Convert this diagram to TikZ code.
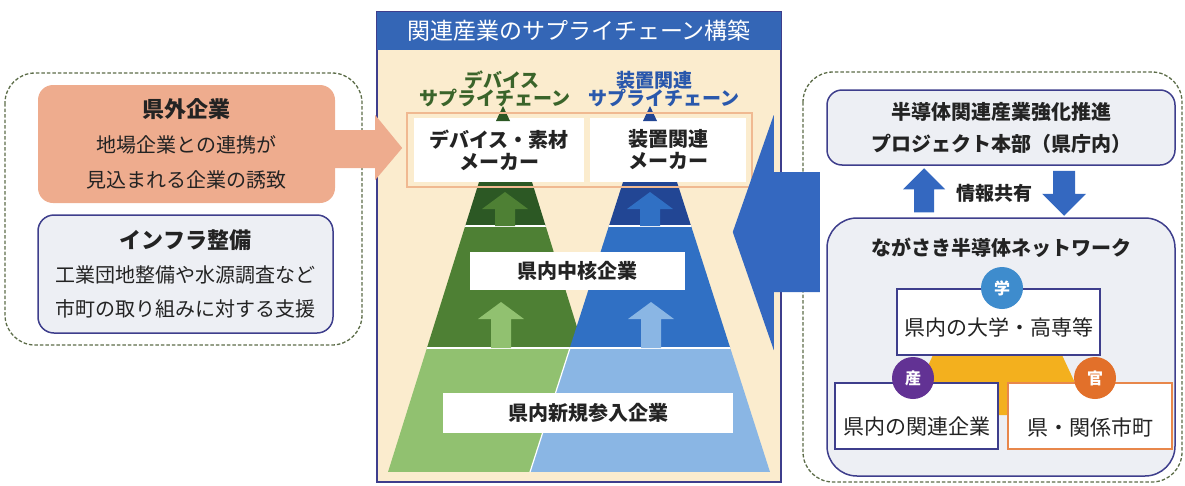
\documentclass[tikz,border=0pt]{standalone}
\usepackage{fontspec}
\setmainfont{Noto Sans CJK JP}
\usetikzlibrary{positioning}

\definecolor{salmon}{RGB}{238,172,142}
\definecolor{olivegray}{RGB}{92,108,72}
\definecolor{navyline}{RGB}{62,62,140}
\definecolor{boxgrey}{RGB}{237,239,244}
\definecolor{headblue}{RGB}{52,102,182}
\definecolor{cream}{RGB}{251,236,206}
\definecolor{makerline}{RGB}{240,185,145}
\definecolor{gdark}{RGB}{44,88,36}
\definecolor{gmid}{RGB}{78,128,52}
\definecolor{glight}{RGB}{145,193,112}
\definecolor{bdark}{RGB}{34,70,148}
\definecolor{bmid}{RGB}{48,112,196}
\definecolor{blight}{RGB}{138,182,228}
\definecolor{arrowblue}{RGB}{52,104,192}
\definecolor{labelgreen}{RGB}{58,100,42}
\definecolor{labelblue}{RGB}{42,88,172}
\definecolor{gakublue}{RGB}{62,140,205}
\definecolor{sanpurple}{RGB}{98,50,148}
\definecolor{kanorange}{RGB}{226,112,42}
\definecolor{kanline}{RGB}{232,135,75}
\definecolor{amber}{RGB}{243,176,30}
\definecolor{inktext}{RGB}{35,35,35}

\tikzset{
  dashframe/.style={draw=olivegray, dash pattern=on 3.5pt off 2pt, line width=1.3pt, rounded corners=30pt},
  greybox/.style={draw=navyline, fill=boxgrey, line width=1.5pt, text=inktext, align=center},
  whitebox/.style={fill=white, inner sep=0pt, text=inktext, align=center},
  txt/.style={font=\fontsize{21}{34}\selectfont, text=inktext, inner sep=0pt},
  boldtxt/.style={font=\fontsize{20}{24}\selectfont\bfseries, text=inktext, inner sep=0pt},
  chainlabel/.style={font=\fontsize{19}{20}\selectfont\bfseries, inner sep=0pt},
  badge/.style={circle, minimum size=42pt, inner sep=0pt, text=white, font=\fontsize{16}{18}\selectfont\bfseries},
}

\begin{document}
\begin{tikzpicture}[x=1pt, y=-1pt]
\useasboundingbox (0,0) rectangle (1185,485);

\draw[dashframe] (5,73) rectangle (362,345);
\node[fill=salmon, rounded corners=15pt, minimum width=297pt, minimum height=118pt, align=center, text=inktext,
  font=\fontsize{20}{35}\selectfont] (kengai) at (186.5,144)
  {{\fontsize{22}{35}\selectfont\bfseries 県外企業}\\地場企業との連携が\\見込まれる企業の誘致};
\node[greybox, rounded corners=16pt, minimum width=295pt, minimum height=118pt,
  font=\fontsize{20}{34}\selectfont] (infra) at (185.5,274)
  {{\fontsize{22}{34}\selectfont\bfseries インフラ整備}\\工業団地整備や水源調査など\\市町の取り組みに対する支援};

\node[draw=navyline, fill=cream, line width=1.5pt, minimum width=404pt, minimum height=470pt] (panel) at (579,247) {};
\node[fill=headblue, minimum width=404pt, minimum height=38pt, text=white,
  font=\fontsize{23}{26}\selectfont] (header) at (579,31) {関連産業のサプライチェーン構築};

\node[chainlabel, text=labelgreen] (devlabel) at (502,80) {デバイス};
\node[chainlabel, text=labelgreen] (devchain) at (495,98) {サプライチェーン};
\node[chainlabel, text=labelblue] (eqlabel) at (654,80) {装置関連};
\node[chainlabel, text=labelblue] (eqchain) at (664,98) {サプライチェーン};

\node[whitebox, minimum width=170pt, minimum height=64pt, font=\fontsize{20}{22}\selectfont\bfseries] (devmaker) at (499,150)
  {デバイス・素材\\メーカー};
\node[whitebox, minimum width=156pt, minimum height=64pt, font=\fontsize{20}{22}\selectfont\bfseries] (eqmaker) at (668,150)
  {装置関連\\メーカー};

\fill[gdark] (496,121) -- (503,106) -- (510,121) -- cycle;
\fill[bdark] (643,121) -- (650,106) -- (657,121) -- cycle;

\begin{scope}
  \clip (479,182) -- (532,182) -- (622,472) -- (388,472) -- cycle;
  \fill[gdark] (380,182) rectangle (640,226);
  \fill[gmid] (380,226) rectangle (640,348);
  \fill[glight] (380,348) rectangle (640,472);
  \draw[white, line width=2pt] (380,226) -- (640,226) (380,348) -- (640,348);
\end{scope}
\begin{scope}
  \clip (623,182) -- (677,182) -- (770,472) -- (530,472) -- cycle;
  \fill[bdark] (520,182) rectangle (780,226);
  \fill[bmid] (520,226) rectangle (780,348);
  \fill[blight] (520,348) rectangle (780,472);
  \draw[white, line width=2pt] (520,226) -- (780,226) (520,348) -- (780,348);
\end{scope}
\draw[white, line width=1.2pt] (570,348) -- (530,472);

\foreach \ax/\ay/\len/\ac in {505/192/34/gmid, 650/192/34/bmid, 501/302/46/glight, 651/302/46/blight}
  \fill[\ac] (\ax,\ay) -- ++(23,17) -- ++(-13,0) -- ++(0,\len-17) -- ++(-20,0) -- ++(0,17-\len) -- ++(-13,0) -- cycle;

\node[draw=makerline, line width=2.5pt, minimum width=345pt, minimum height=74pt] (makers) at (579.5,150) {};

\node[whitebox, minimum width=215pt, minimum height=38pt, font=\fontsize{20}{24}\selectfont\bfseries] (chukaku) at (577.5,271) {県内中核企業};
\node[whitebox, minimum width=290pt, minimum height=40pt, font=\fontsize{20}{24}\selectfont\bfseries] (shinki) at (588,413) {県内新規参入企業};

\fill[salmon] (kengai.east) ++(-5,-14) -- ++(45,0) -- ++(0,-15) -- ++(27,33) -- ++(-27,32) -- ++(0,-12) -- ++(-45,0) -- cycle;

\draw[dashframe] (803,72) rectangle (1182,482);
\node[greybox, rounded corners=15pt, minimum width=348pt, minimum height=75pt,
  font=\fontsize{20}{32}\selectfont\bfseries] (project) at (1001,127.5)
  {半導体関連産業強化推進\\プロジェクト本部（県庁内）};
\node[greybox, rounded corners=30pt, minimum width=348pt, minimum height=258pt] (network) at (1001,347) {};
\node[boldtxt] (nettitle) at (1001,248) {ながさき半導体ネットワーク};

\fill[arrowblue] ([shift={(-49,-15)}]panel.east) -- ++(41,-117) -- ++(0,57) -- ++(46,0) -- ++(0,120) -- ++(-46,0) -- ++(0,58) -- cycle;

\fill[arrowblue] ([xshift=-77pt]network.north) ++(-10,-5) -- ++(0,-23) -- ++(-11,0) -- ++(21,-21) -- ++(21,21) -- ++(-11,0) -- ++(0,23) -- cycle;
\fill[arrowblue] ([xshift=63pt]project.south) ++(-11,5) -- ++(0,23) -- ++(-11,0) -- ++(22,22) -- ++(22,-22) -- ++(-11,0) -- ++(0,-23) -- cycle;
\node[boldtxt, font=\fontsize{19}{22}\selectfont\bfseries] (share) at (994,193) {情報共有};

\fill[amber] (933,355) -- (1062,355) -- (1090,415) -- (905,415) -- cycle;
\node[draw=navyline, fill=white, line width=1.5pt, minimum width=203pt, minimum height=66pt] (univ) at (998.5,322) {};
\node[txt] (univtext) at (998.5,327) {県内の大学・高専等};
\node[draw=navyline, fill=white, line width=1.5pt, minimum width=163pt, minimum height=66pt] (sangyo) at (916.5,416) {};
\node[txt] (sangyotext) at (916.5,427) {県内の関連企業};
\node[draw=kanline, fill=white, line width=1.5pt, minimum width=164pt, minimum height=66pt] (kan) at (1090,416) {};
\node[txt] (kantext) at (1090,427) {県・関係市町};

\node[badge, fill=gakublue] (gaku) at (1002,288) {学};
\node[badge, fill=sanpurple] (san) at (913,378) {産};
\node[badge, fill=kanorange] (kancircle) at (1095,378) {官};
\end{tikzpicture}
\end{document}
